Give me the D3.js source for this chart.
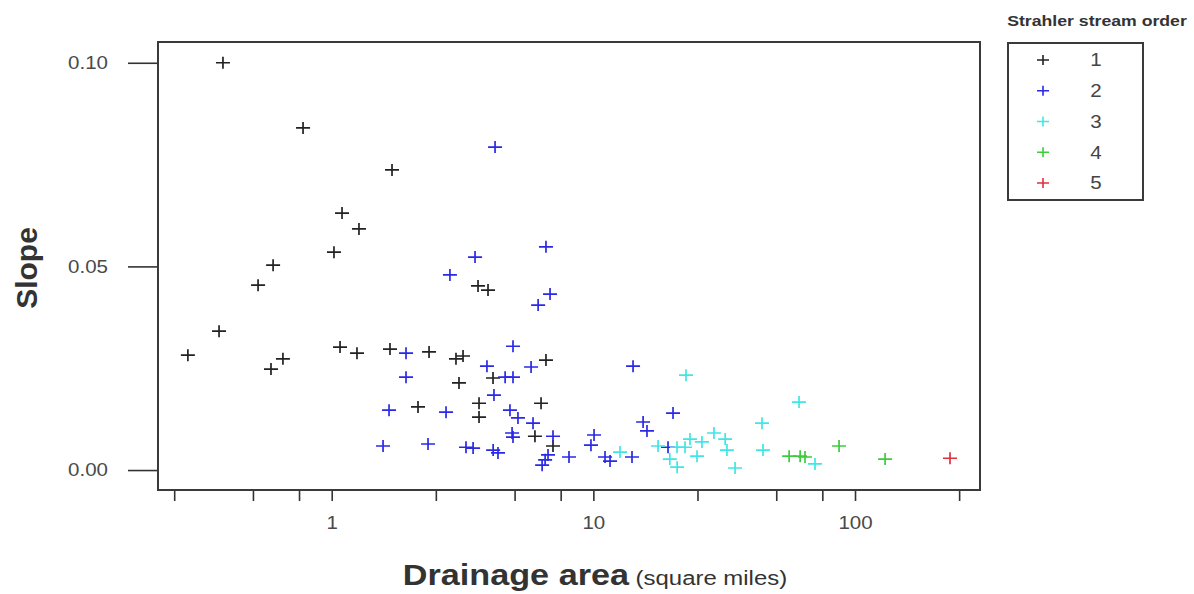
<!DOCTYPE html>
<html>
<head>
<meta charset="utf-8">
<script src="https://cdn.jsdelivr.net/npm/d3@7/dist/d3.min.js"></script>
<style>
  html, body { margin: 0; padding: 0; background: #ffffff; }
  svg { display: block; font-family: "Liberation Sans", Arial, sans-serif; }
</style>
</head>
<body>
<svg id="chart" width="1194" height="594"></svg>
<script>
// ---- Data: [drainage area (sq mi), slope] per Strahler order ----
const order1 = [
  [0.384, 0.1000], [0.777, 0.0840], [1.70, 0.0737], [1.095, 0.0631], [1.271, 0.0592],
  [1.02, 0.0535], [0.597, 0.0503], [0.523, 0.0454], [0.371, 0.0341], [0.282, 0.0282],
  [0.651, 0.0273], [0.586, 0.0248], [1.076, 0.0302], [1.249, 0.0287], [1.67, 0.0297],
  [2.355, 0.0290], [2.985, 0.0273], [3.176, 0.0280], [3.065, 0.0214], [2.137, 0.0155],
  [3.624, 0.0452], [3.957, 0.0442], [3.656, 0.0164], [3.656, 0.0130], [4.135, 0.0226],
  [6.59, 0.0270], [6.31, 0.0164], [5.98, 0.0083], [7.01, 0.0059]
];
const order2 = [
  [4.21, 0.0793], [6.59, 0.0548], [3.53, 0.0523], [2.83, 0.0479], [6.83, 0.0432],
  [6.15, 0.0405], [1.923, 0.0287], [1.923, 0.0228], [1.656, 0.0147], [1.571, 0.0059],
  [2.334, 0.0064], [2.735, 0.0142], [3.26, 0.0056], [3.47, 0.0054], [3.92, 0.0255],
  [4.17, 0.0184], [4.14, 0.0049], [4.32, 0.0042], [4.93, 0.0304], [4.60, 0.0228],
  [4.93, 0.0228], [4.80, 0.0147], [5.15, 0.0128], [5.78, 0.0253], [5.88, 0.0115],
  [4.89, 0.0091], [4.93, 0.0081], [7.01, 0.0083], [6.71, 0.0037], [6.54, 0.0025],
  [6.37, 0.0012], [8.07, 0.0032], [10.06, 0.0086], [9.79, 0.0061], [11.08, 0.0032],
  [11.58, 0.0022], [14.18, 0.0255], [14.05, 0.0032], [20.16, 0.0140], [15.49, 0.0118],
  [16.03, 0.0096], [19.29, 0.0056]
];
const order3 = [
  [22.6, 0.0233], [12.64, 0.0044], [17.67, 0.0059], [20.88, 0.0056], [22.4, 0.0056],
  [23.4, 0.0076], [26.0, 0.0069], [28.9, 0.0091], [31.9, 0.0076], [24.9, 0.0034],
  [32.4, 0.0049], [19.6, 0.0027], [20.9, 0.0007], [34.8, 0.0005], [44.1, 0.0115],
  [44.5, 0.0049], [61.1, 0.0167], [70.3, 0.0015]
];
const order4 = [
  [56.0, 0.0034], [61.7, 0.0034], [64.4, 0.0032], [86.9, 0.0059], [130.3, 0.0027]
];
const order5 = [
  [230.7, 0.0029]
];
const orderLabels = ["1", "2", "3", "4", "5"];
const orderColors = ["#222222", "#2a2ae6", "#3fe6e6", "#3ccc3c", "#e03040"];
const xTickValues = [0.25, 0.5, 0.75, 1, 2.5, 5, 7.5, 10, 25, 50, 75, 100, 250];
const xTickLabels = { 1: "1", 10: "10", 100: "100" };
const yTickValues = [0, 0.05, 0.10];
const xTitleBold = "Drainage area";
const xTitleRest = " (square miles)";
const yTitle = "Slope";
const legendTitle = "Strahler stream order";

const series = [order1, order2, order3, order4, order5];

// ---- Layout ----
const svg = d3.select("#chart");
const frame = { left: 158, right: 980, top: 42, bottom: 490 };
const SX = 1.14; // horizontal stretch of the original picture's text

// move x/y of a text into a transform and stretch it horizontally
function stretch(sel) {
  sel.each(function () {
    const t = d3.select(this);
    const tx = +t.attr("x") || 0, ty = +t.attr("y") || 0;
    t.attr("x", 0).attr("y", 0)
     .attr("transform", `translate(${tx},${ty}) scale(${SX},1)`);
  });
}

const x = d3.scaleLog().domain([0.2168, 300.4]).range([frame.left, frame.right]);
const y = d3.scaleLinear().domain([-0.0049, 0.1051]).range([frame.bottom, frame.top]);

// frame
svg.append("rect")
  .attr("x", frame.left).attr("y", frame.top)
  .attr("width", frame.right - frame.left).attr("height", frame.bottom - frame.top)
  .attr("fill", "none").attr("stroke", "#3a3a3a").attr("stroke-width", 2);

// y axis (ticks outside frame)
const yAxis = d3.axisLeft(y).tickValues(yTickValues).tickFormat(d3.format(".2f"))
  .tickSize(29).tickPadding(20);
const gy = svg.append("g").attr("transform", `translate(${frame.left - 1},0)`).call(yAxis);
gy.select(".domain").remove();
gy.selectAll(".tick line").attr("stroke", "#333").attr("stroke-width", 1.6);
gy.selectAll(".tick text").attr("fill", "#4a4a4a").attr("font-size", 18)
  .attr("font-family", "Liberation Sans, Arial, sans-serif").call(stretch);

// x axis
const xAxis = d3.axisBottom(x).tickValues(xTickValues)
  .tickFormat(d => xTickLabels[d] || "").tickSize(10).tickPadding(15);
const gx = svg.append("g").attr("transform", `translate(0,${frame.bottom + 1})`).call(xAxis);
gx.select(".domain").remove();
gx.selectAll(".tick line").attr("stroke", "#333").attr("stroke-width", 1.6);
gx.selectAll(".tick text").attr("fill", "#4a4a4a").attr("font-size", 18)
  .attr("font-family", "Liberation Sans, Arial, sans-serif").call(stretch);

// axis titles
const xt = svg.append("text").attr("x", 595).attr("y", 585).attr("text-anchor", "middle")
  .attr("fill", "#333");
xt.append("tspan").attr("font-weight", "bold").attr("font-size", 30).text(xTitleBold);
xt.append("tspan").attr("font-size", 21).text(xTitleRest);
xt.call(stretch);

svg.append("text").attr("transform", "translate(37,268) rotate(-90)")
  .attr("text-anchor", "middle").attr("font-weight", "bold").attr("font-size", 30)
  .attr("fill", "#333").text(yTitle);

// markers
const crossPath = (sx, sy) => `M${-sx},0H${sx}M0,${-sy}V${sy}`;
const plot = svg.append("g");
series.forEach((data, i) => {
  plot.append("g").selectAll("path").data(data).join("path")
    .attr("transform", d => `translate(${x(d[0])},${y(d[1])})`)
    .attr("d", crossPath(7, 6))
    .attr("stroke", orderColors[i]).attr("stroke-width", 1.7).attr("fill", "none");
});

// legend
svg.append("text").attr("x", 1097).attr("y", 26).attr("text-anchor", "middle")
  .attr("font-weight", "bold").attr("font-size", 15.5).attr("fill", "#333").text(legendTitle)
  .call(stretch);
svg.append("rect").attr("x", 1008).attr("y", 43).attr("width", 135).attr("height", 157)
  .attr("fill", "none").attr("stroke", "#3a3a3a").attr("stroke-width", 2);
const ly = d3.scalePoint().domain(orderLabels).range([60, 183]);
const lg = svg.append("g").selectAll("g").data(orderLabels).join("g")
  .attr("transform", d => `translate(0,${ly(d)})`);
lg.append("path").attr("transform", "translate(1043,0)").attr("d", crossPath(6, 5))
  .attr("stroke", (d, i) => orderColors[i]).attr("stroke-width", 1.6);
lg.append("text").attr("x", 1096).attr("y", 0).attr("dy", "0.36em").attr("text-anchor", "middle")
  .attr("font-size", 18).attr("fill", "#444").text(d => d).call(stretch);
</script>
</body>
</html>
